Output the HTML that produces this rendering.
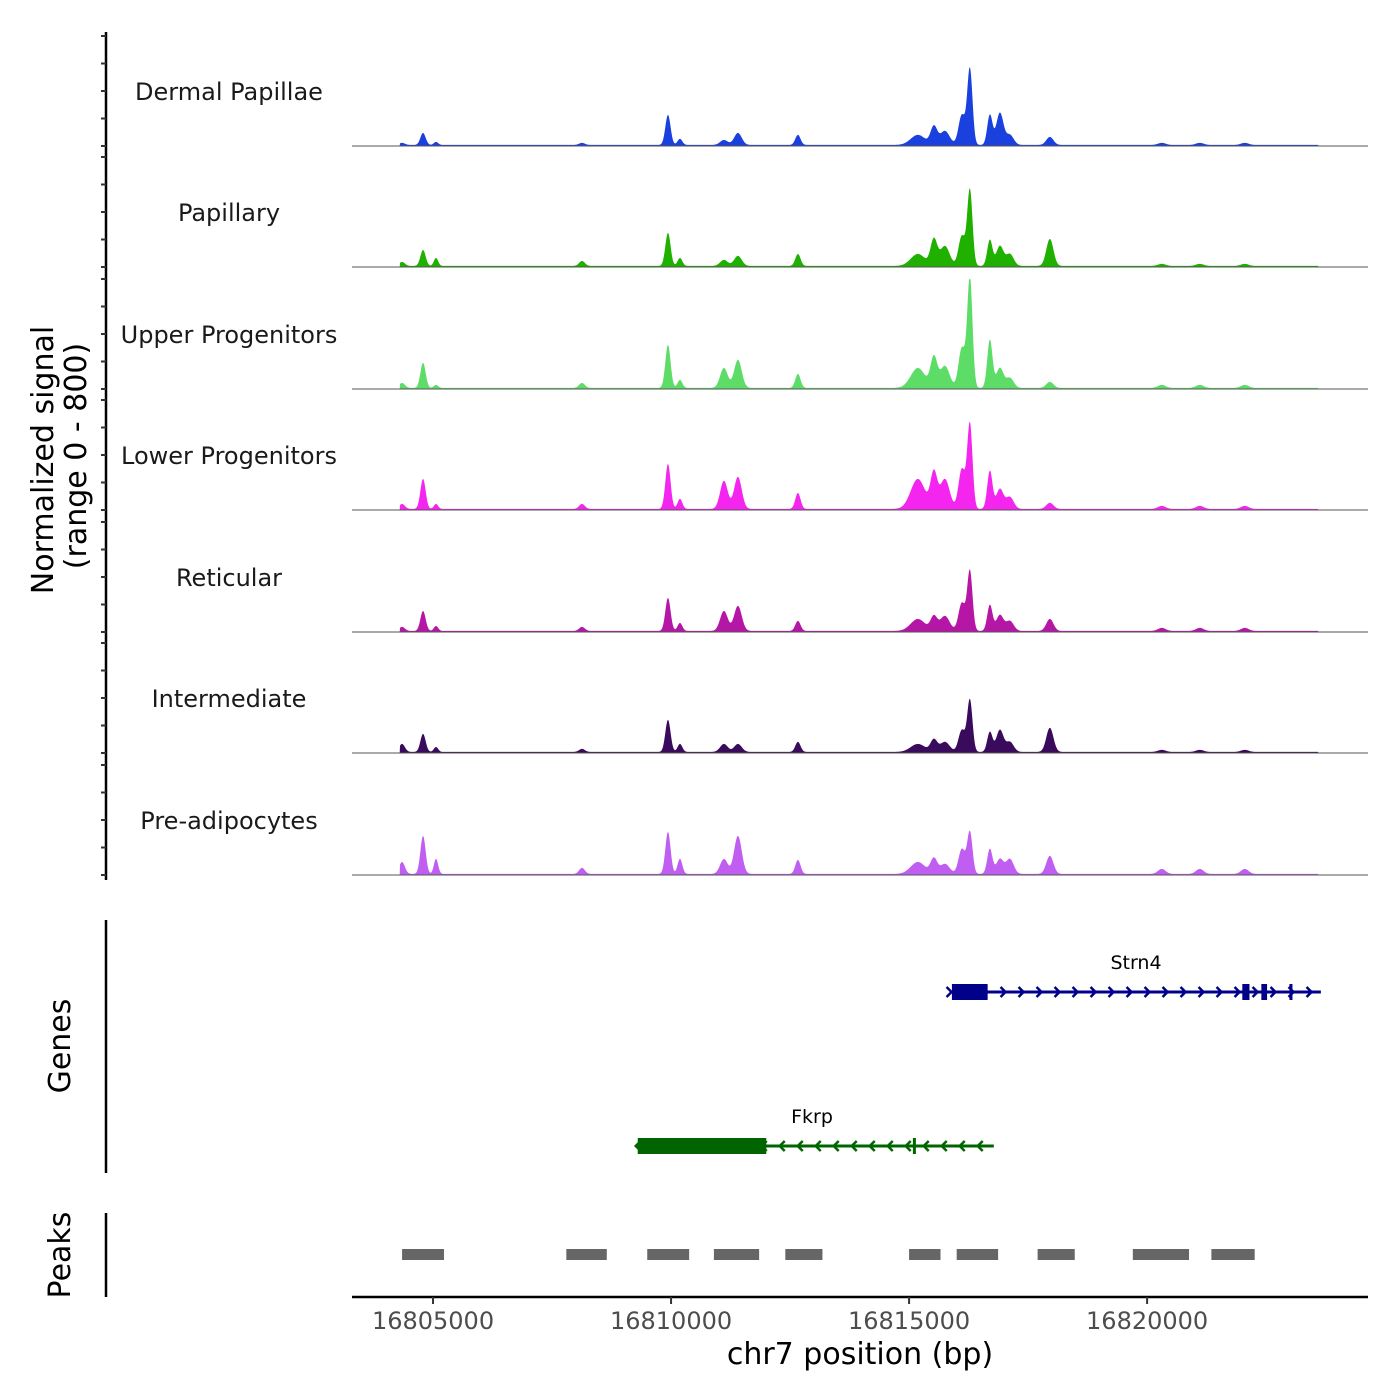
<!DOCTYPE html>
<html><head><meta charset="utf-8"><style>
html,body{margin:0;padding:0;background:#fff;}
svg{display:block;font-family:"DejaVu Sans","Liberation Sans",sans-serif;}
</style></head><body>
<svg id="chart" width="1400" height="1400" viewBox="0 0 1400 1400" xmlns="http://www.w3.org/2000/svg">
<rect width="1400" height="1400" fill="#fff"/>
<g id="tracks"></g>
<g id="genes"></g>
<g id="peaks"></g>
<g id="axes"></g>
<text transform="translate(53,460) rotate(-90)" text-anchor="middle" font-size="30">Normalized signal</text>
<text transform="translate(86,456) rotate(-90)" text-anchor="middle" font-size="30">(range 0 - 800)</text>
<text transform="translate(70,1046) rotate(-90)" text-anchor="middle" font-size="30">Genes</text>
<text transform="translate(70,1255) rotate(-90)" text-anchor="middle" font-size="30">Peaks</text>
<text x="860" y="1364" text-anchor="middle" font-size="30">chr7 position (bp)</text>
</svg>
<script>
const NS="http://www.w3.org/2000/svg";
const trackNames=["Dermal Papillae","Papillary","Upper Progenitors","Lower Progenitors","Reticular","Intermediate","Pre-adipocytes"];
const trackColors=["#1a40dd","#1fb000","#5ddc68","#f425ee","#b616a6","#3a0a5c","#c05ef2"];
const peakPos=[16804349,16804790,16805063,16808129,16809935,16810187,16811111,16811405,16812665,16815185,16815521,16815752,16816109,16816277,16816697,16816907,16817117,16817957,16820309,16821107,16822052];
const peakWidth=[60,55,45,60,55,50,80,80,55,150,70,100,70,55,55,75,80,75,80,80,80];
const dermal=[15,87,22,15,218,44,36,87,73,73,131,102,218,553,218,233,73,58,15,15,15];
const papillary=[29,116,58,36,240,58,44,73,87,87,189,145,218,553,189,145,87,196,15,15,15];
const upperProg=[36,182,22,36,313,58,145,204,102,145,218,160,291,800,349,145,73,44,22,22,22];
const lowerProg=[36,218,36,36,327,73,204,233,116,218,255,218,291,618,276,145,87,44,22,22,22];
const reticular=[29,145,36,29,240,58,145,182,73,87,102,109,204,436,189,116,73,87,22,22,22];
const intermediate=[58,131,36,22,233,58,58,58,73,58,87,73,160,378,145,160,73,175,15,15,15];
const preadipo=[87,276,109,44,305,109,109,276,102,87,109,73,182,305,182,109,109,131,36,36,36];
const series=[dermal,papillary,upperProg,lowerProg,reticular,intermediate,preadipo];
const xTicks=[16805000,16810000,16815000,16820000];
const peakStarts=[16804350,16807800,16809500,16810900,16812400,16815000,16816000,16817700,16819700,16821350];
const peakEnds=[16805230,16808650,16810380,16811850,16813180,16815660,16816870,16818480,16820880,16822260];
const strn4Exons=[[16815900,16816650],[16822000,16822150],[16822400,16822520],[16822990,16823040]];
const strn4Span=[16815850,16823650];
const fkrpExons=[[16809300,16812000],[16815080,16815110]];
const fkrpSpan=[16809300,16816780];

const X0=352,X1=1368,BP0=16803298,BP1=16824640;
function xs(bp){return X0+(bp-BP0)/(BP1-BP0)*(X1-X0);}
function xinv(px){return BP0+(px-X0)/(X1-X0)*(BP1-BP0);}
const TRACK_H=110, VMAX=800;
function ys(v,base){return base-Math.min(v,VMAX)/VMAX*TRACK_H;}
const baselines=[146,267,389,510,632,753,875];
const sigStart=16804300, sigEnd=16823600;
function el(tag,attrs,parent){const e=document.createElementNS(NS,tag);for(const k in attrs)e.setAttribute(k,attrs[k]);parent.appendChild(e);return e;}

const gT=document.getElementById('tracks');
series.forEach((vals,ti)=>{
  const base=baselines[ti];
  const g=el('g',{},gT);
  
  
  const lbl=el('text',{x:229,y:base-46,'text-anchor':'middle','font-size':'24',fill:'#1a1a1a'},g);
  lbl.textContent=trackNames[ti];
  
  
  let d='';
  const sx=xs(sigStart), ex=xs(sigEnd);
  d+='M'+sx.toFixed(1)+','+base;
  for(let px=Math.ceil(sx);px<=ex;px+=0.5){
    const bp=xinv(px);let v=8;
    for(let i=0;i<peakPos.length;i++){const z=(bp-peakPos[i])/peakWidth[i];if(Math.abs(z)<5)v+=vals[i]*Math.exp(-0.5*z*z);}
    d+=' L'+px.toFixed(1)+','+ys(v,base).toFixed(2);
  }
  d+=' L'+ex.toFixed(1)+','+base+' Z';
  const area=el('path',{d:d,fill:trackColors[ti],stroke:'none'},g);
  
  
  const bl=el('line',{x1:X0,x2:X1,y1:base,y2:base,stroke:'#555','stroke-width':1},g);
  
  
});

const gA=document.getElementById('axes');
const ax=el('line',{x1:106,x2:106,y1:32,y2:880,stroke:'#000','stroke-width':2.5},gA);


baselines.forEach(b=>{for(let k=0;k<=4;k++){const y=b-k*27.5;
  const t=el('line',{x1:101,x2:106,y1:y,y2:y,stroke:'#333','stroke-width':2},gA);
  
  }});
const ga=el('line',{x1:106,x2:106,y1:920,y2:1173,stroke:'#000','stroke-width':2.5},gA);


const pa=el('line',{x1:106,x2:106,y1:1213,y2:1297,stroke:'#000','stroke-width':2.5},gA);


const xa=el('line',{x1:X0,x2:X1,y1:1297,y2:1297,stroke:'#000','stroke-width':2.5},gA);


xTicks.forEach(t=>{const x=xs(t);
  const tk=el('line',{x1:x,x2:x,y1:1297,y2:1304,stroke:'#333','stroke-width':2},gA);
  
  
  const tl=el('text',{x:x,y:1329,'text-anchor':'middle','font-size':'24',fill:'#4d4d4d'},gA);
  tl.textContent=t;
  
  });

const gP=document.getElementById('peaks');
peakStarts.forEach((s,i)=>{
  const r=el('rect',{x:xs(s),y:1249,width:xs(peakEnds[i])-xs(s),height:11,fill:'#666'},gP);
  
  });

const gG=document.getElementById('genes');
function gene(name,span,exons,y,color,dir,labelX,labelY){
  const g=el('g',{},gG);
  
  
  el('line',{x1:xs(span[0]),x2:xs(span[1]),y1:y,y2:y,stroke:color,'stroke-width':3},g);
  const a0=xs(span[0]),a1=xs(span[1]);
  for(let x=a0;x<=a1+0.5;x+=18){
    const d=dir>0?`M${x-3},${y-5} L${x+2},${y} L${x-3},${y+5}`:`M${x+3},${y-5} L${x-2},${y} L${x+3},${y+5}`;
    el('path',{d:d,stroke:color,'stroke-width':2.5,fill:'none'},g);}
  exons.forEach(e=>{const w=Math.max(3,xs(e[1])-xs(e[0]));
    const r=el('rect',{x:xs(e[0]),y:y-8,width:w,height:16,fill:color},g);
    
    });
  const t=el('text',{x:labelX,y:labelY,'text-anchor':'middle','font-size':'19',fill:'#000'},g);
  t.textContent=name;
  
  
}
gene('Strn4',strn4Span,strn4Exons,992,'#00008b',1,1136,969);
gene('Fkrp',fkrpSpan,fkrpExons,1146,'#006400',-1,812,1123);
</script>
</body></html>
